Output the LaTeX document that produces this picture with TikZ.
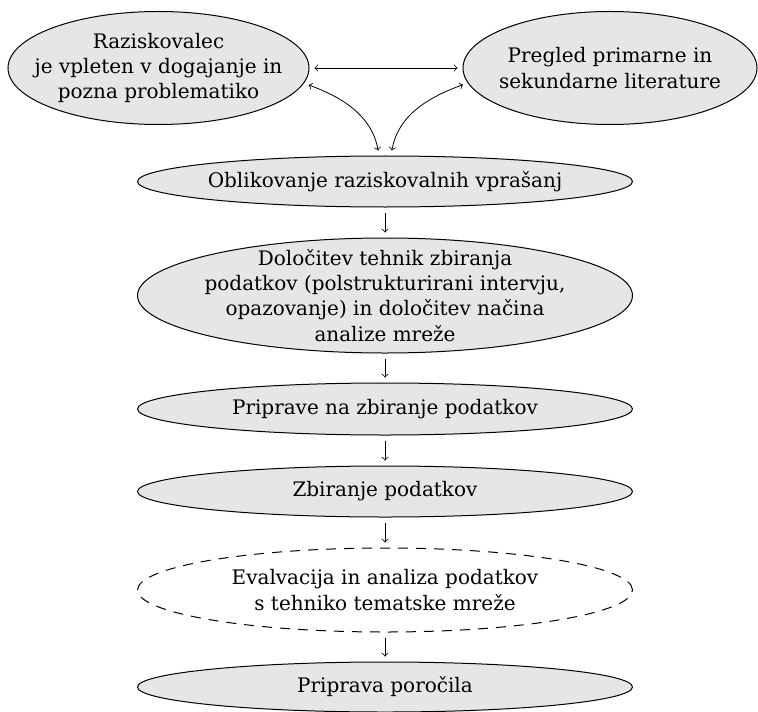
\documentclass[tikz,border=0pt]{standalone}
\usepackage{fontspec}
\setmainfont{DejaVu Serif}
\usepackage{tikz}
\usetikzlibrary{shapes.geometric}
\definecolor{stageGray}{RGB}{230,230,230}

\tikzset{
  stage/.style={ellipse, draw, line width=0.5pt, fill=stageGray,
    inner xsep=-15pt, inner ysep=-5pt,
    align=center, font=\fontsize{10}{12.6}\selectfont},
  wide/.style={minimum width=247.5pt},
  flow/.style={->, shorten >=2.5pt, shorten <=2.5pt},
  link/.style={<->, shorten >=2.5pt, shorten <=2.5pt}
}

\begin{document}
\begin{tikzpicture}[x=0.5pt, y=-0.5pt]
        \useasboundingbox (0,0) rectangle (758,711);

        % Starting points
        \node[stage, minimum width=150.5pt, minimum height=56.5pt] (razisk) at (158.5,68)
          {Raziskovalec\\je vpleten v dogajanje in\\pozna problematiko};
        \node[stage, minimum width=147pt, minimum height=56.5pt] (pregled) at (610,68)
          {Pregled primarne in\\sekundarne literature};

        % Main sequence
        \node[stage, wide, minimum height=25.5pt] (oblik) at (385,181.5)
          {Oblikovanje raziskovalnih vprašanj};
        \node[stage, wide, minimum height=57.5pt] (dolocitev) at (385,295.5)
          {Določitev tehnik zbiranja\\podatkov (polstrukturirani intervju,\\opazovanje) in določitev načina\\analize mreže};
        \node[stage, wide, minimum height=26pt] (priprave) at (385,409)
          {Priprave na zbiranje podatkov};
        \node[stage, wide, minimum height=25.5pt] (zbiranje) at (385,491.5)
          {Zbiranje podatkov};
        \node[stage, wide, minimum height=42pt, fill=none, dash pattern=on 5pt off 4pt] (evalvacija) at (385,590)
          {Evalvacija in analiza podatkov\\s tehniko tematske mreže};
        \node[stage, wide, minimum height=25pt] (porocilo) at (385,687)
          {Priprava poročila};

        % Links between the starting points
        \draw[link] (razisk.east) -- (pregled.west);
        \draw[link] (razisk.-6) to[out=-20, in=100] (oblik.103);
        \draw[link] (pregled.186) to[out=200, in=80] (oblik.77);

        % Arrows down the sequence
        \draw[flow] (oblik) -- (dolocitev);
        \draw[flow] (dolocitev) -- (priprave);
        \draw[flow] (priprave) -- (zbiranje);
        \draw[flow] (zbiranje) -- (evalvacija);
        \draw[flow] (evalvacija) -- (porocilo);
      \end{tikzpicture}
\end{document}
